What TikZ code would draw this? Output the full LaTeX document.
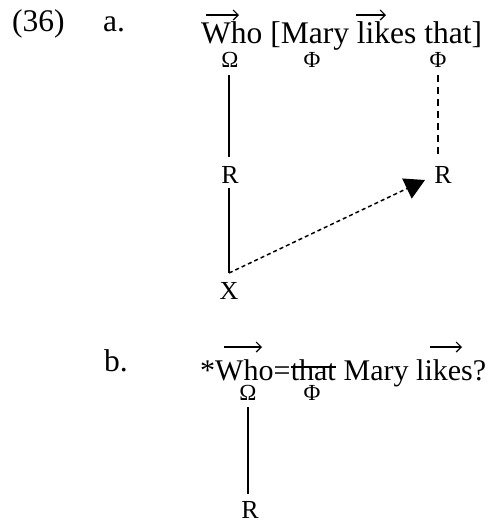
\documentclass[tikz,border=0pt]{standalone}
\usepackage{fontspec}
\setmainfont{Liberation Serif}
\usetikzlibrary{arrows.meta}
\begin{document}
\begin{tikzpicture}[x=1pt,y=-1pt,
  big/.style={font=\fontsize{31.5}{31.5}\selectfont, inner sep=0pt, anchor=base west},
  bigb/.style={font=\fontsize{30}{30}\selectfont, inner sep=0pt, anchor=base west},
  sub/.style={font=\fontsize{23}{23}\selectfont, inner sep=0pt, anchor=base},
  lab/.style={font=\fontsize{26}{26}\selectfont, inner sep=0pt, anchor=base},
  vec/.style={line width=1.2pt, -{Straight Barb[length=5pt,width=10pt]}},
  tie/.style={line width=1.1pt},
  dashlink/.style={line width=1.5pt, dash pattern=on 7pt off 5pt},
  dotlink/.style={line width=1.5pt, dash pattern=on 4pt off 3pt, -{Triangle[length=20pt,width=22pt]}},
  strike/.style={line width=1.3pt}
]
\useasboundingbox (0,0) rectangle (491,523);
% (36) a.
\node[big] (n36) at (12,31) {(36)};
\node[big] (la) at (103,31) {a.};
\node[big] (sa) at (201,43) {Who [Mary likes that]};
\coordinate (va1) at (206,15);
\coordinate (va2) at (239,15);
\coordinate (vb1) at (356,15);
\coordinate (vb2) at (386,15);
\draw[vec] (va1) -- (va2);
\draw[vec] (vb1) -- (vb2);
\node[sub] (Oa) at (230,67) {Ω};
\node[sub] (Pa) at (312,67) {Φ};
\node[sub] (Pb) at (438,67) {Φ};
\node[lab] (Ra) at (230,183) {R};
\node[lab] (Xa) at (229,299) {X};
\node[lab] (Rb) at (443,183) {R};
\coordinate (c1) at (229,75);
\coordinate (c2) at (229,157);
\coordinate (c3) at (229,188);
\coordinate (corner) at (229,273);
\coordinate (d1) at (438,75);
\coordinate (d2) at (438,157);
\coordinate (tip) at (425,180);
\draw[tie] (c1) -- (c2);
\draw[tie] (c3) -- (corner);
\draw[dashlink] (d1) -- (d2);
\draw[dotlink] (corner) -- (tip);
% b.
\node[big] (lb) at (104,371) {b.};
\node[bigb] (bw) at (200,380) {*Who=};
\node[bigb] (that) at (bw.base east) {that};
\node[bigb] (bm) at ([xshift=7.5pt]that.base east) {Mary likes?};
\coordinate (s1) at ([yshift=13pt]that.base west);
\coordinate (s2) at ([yshift=13pt]that.base east);
\draw[strike] (s1) -- (s2);
\coordinate (vc1) at (224,347);
\coordinate (vc2) at (262,347);
\coordinate (vd1) at (430,347);
\coordinate (vd2) at (462,347);
\draw[vec] (vc1) -- (vc2);
\draw[vec] (vd1) -- (vd2);
\node[sub] (Oc) at (248,400) {Ω};
\node[sub] (Pc) at (312,400) {Φ};
\node[lab] (Rc) at (250,518) {R};
\coordinate (e1) at (248,407);
\coordinate (e2) at (248,494);
\draw[tie] (e1) -- (e2);
\end{tikzpicture}
\end{document}
